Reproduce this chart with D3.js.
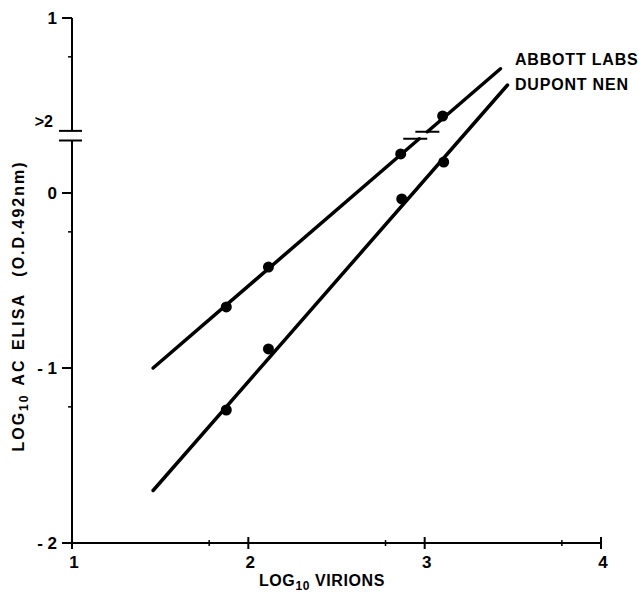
<!DOCTYPE html>
<html><head><meta charset="utf-8">
<script src="https://cdn.jsdelivr.net/npm/d3@7"></script>
<style>
html,body{margin:0;padding:0;background:#fff;}
text{font-family:"Liberation Sans",Arial,sans-serif;font-weight:700;fill:#000;}
</style></head>
<body><svg id="c" width="639" height="593"></svg>
<script>
// ---- data ----
const xTicks = [1, 2, 3, 4];
const xTickLabels = ["1", "2", "3", "4"];
const xMinorTicks = [1.778, 2.778, 3.778];
const yTicks = [1, 0, -1, -2];
const yTickLabels = ["1", "0", "- 1", "- 2"];
const yMinorTicks = [0.778, -0.222, -1.222];
const yBreak = [0.30, 0.355];        // axis break (O.D. > 2)
const breakLabel = ">2";
const seriesNames = ["ABBOTT LABS", "DUPONT NEN"];
const abbottX = [1.875, 2.114, 2.864, 3.102];
const abbottY = [-0.651, -0.423, 0.223, 0.44];
const dupontX = [1.875, 2.114, 2.87, 3.108];
const dupontY = [-1.24, -0.891, -0.034, 0.177];
const abbottLineX = [1.46, 3.43];
const abbottLineY = [-1.0, 0.71];
const dupontLineX = [1.46, 3.47];
const dupontLineY = [-1.70, 0.617];
const xTitle = ["LOG", "10", " VIRIONS"];
const yTitle = ["LOG", "10", " AC ELISA  (O.D.492nm)"];

// ---- scales ----
const x = d3.scaleLinear().domain([1, 4]).range([72, 601]);
const y = d3.scaleLinear().domain([-2, 1]).range([543, 18]);
const svg = d3.select("#c");
const g = svg.append("g");

// ---- axes ----
// y axis with break
g.append("line").attr("x1", x(1)).attr("x2", x(1)).attr("y1", y(1)).attr("y2", y(yBreak[1]))
  .attr("stroke", "#000").attr("stroke-width", 2);
g.append("line").attr("x1", x(1)).attr("x2", x(1)).attr("y1", y(yBreak[0])).attr("y2", y(-2) + 6)
  .attr("stroke", "#000").attr("stroke-width", 2);
yBreak.forEach(v => g.append("line").attr("x1", x(1) - 13).attr("x2", x(1) + 10)
  .attr("y1", y(v)).attr("y2", y(v)).attr("stroke", "#000").attr("stroke-width", 2));
g.selectAll(".ytick").data(yTicks).join("line")
  .attr("x1", x(1) - 10).attr("x2", x(1)).attr("y1", d => y(d)).attr("y2", d => y(d))
  .attr("stroke", "#000").attr("stroke-width", 2);
g.selectAll(".yminor").data(yMinorTicks).join("line")
  .attr("x1", x(1) - 4).attr("x2", x(1)).attr("y1", d => y(d)).attr("y2", d => y(d))
  .attr("stroke", "#000").attr("stroke-width", 1.5);
g.selectAll(".ylab").data(yTicks).join("text")
  .attr("x", x(1) - 15).attr("y", d => y(d) + 6).attr("text-anchor", "end")
  .attr("font-size", 17).text((d, i) => yTickLabels[i]);
g.append("text").attr("x", x(1) - 19).attr("y", y(0.41) + 6).attr("text-anchor", "end")
  .attr("font-size", 16).text(breakLabel);

// x axis
g.append("line").attr("x1", x(1) - 10).attr("x2", x(4)).attr("y1", y(-2)).attr("y2", y(-2))
  .attr("stroke", "#000").attr("stroke-width", 2);
g.selectAll(".xtick").data(xTicks.slice(1)).join("line")
  .attr("x1", d => x(d)).attr("x2", d => x(d)).attr("y1", y(-2) - 6).attr("y2", y(-2) + 6)
  .attr("stroke", "#000").attr("stroke-width", 2);
g.selectAll(".xminor").data(xMinorTicks).join("line")
  .attr("x1", d => x(d)).attr("x2", d => x(d)).attr("y1", y(-2) - 3).attr("y2", y(-2) + 3)
  .attr("stroke", "#000").attr("stroke-width", 1.5);
g.selectAll(".xlab").data(xTicks).join("text")
  .attr("x", d => x(d) + 2).attr("y", y(-2) + 25).attr("text-anchor", "middle")
  .attr("font-size", 17).text((d, i) => xTickLabels[i]);

// axis titles
const xt = g.append("text").attr("x", 322).attr("y", 586).attr("text-anchor", "middle")
  .attr("font-size", 16).attr("letter-spacing", 0.6);
xt.append("tspan").text(xTitle[0]);
xt.append("tspan").attr("dy", 4).attr("font-size", 12).text(xTitle[1]);
xt.append("tspan").attr("dy", -4).text(xTitle[2]);

const yt = g.append("text").attr("transform", "translate(24,306) rotate(-90)")
  .attr("text-anchor", "middle").attr("font-size", 16).attr("letter-spacing", 2)
  .attr("word-spacing", 2).attr("xml:space", "preserve");
yt.append("tspan").text(yTitle[0]);
yt.append("tspan").attr("dy", 4).attr("font-size", 12).text(yTitle[1]);
yt.append("tspan").attr("dy", -4).text(yTitle[2]);

// ---- lines ----
const slopeA = (abbottLineY[1] - abbottLineY[0]) / (abbottLineX[1] - abbottLineX[0]);
const xAt = v => abbottLineX[0] + (v - abbottLineY[0]) / slopeA;
const segA = [
  [[abbottLineX[0], abbottLineY[0]], [xAt(yBreak[0] + 0.01), yBreak[0] + 0.01]],
  [[xAt(yBreak[1] - 0.005), yBreak[1] - 0.005], [abbottLineX[1], abbottLineY[1]]]
];
const line = d3.line().x(d => x(d[0])).y(d => y(d[1]));
segA.forEach(s => g.append("path").attr("d", line(s)).attr("fill", "none")
  .attr("stroke", "#000").attr("stroke-width", 3.5).attr("stroke-linecap", "round"));
// break dashes on the Abbott line
[[yBreak[0] + 0.01, -4], [yBreak[1] - 0.005, 0]].forEach(([v, off]) => {
  const cx = x(xAt(v)) + off;
  g.append("line").attr("x1", cx - 12).attr("x2", cx + 12).attr("y1", y(v)).attr("y2", y(v))
    .attr("stroke", "#000").attr("stroke-width", 2);
});
g.append("path").attr("d", line(dupontLineX.map((d, i) => [d, dupontLineY[i]])))
  .attr("fill", "none").attr("stroke", "#000").attr("stroke-width", 3.5).attr("stroke-linecap", "round");

// ---- points ----
g.selectAll(".pa").data(abbottX).join("circle")
  .attr("cx", d => x(d)).attr("cy", (d, i) => y(abbottY[i])).attr("r", 5.5).attr("fill", "#000");
g.selectAll(".pd").data(dupontX).join("circle")
  .attr("cx", d => x(d)).attr("cy", (d, i) => y(dupontY[i])).attr("r", 5.5).attr("fill", "#000");

// ---- series labels ----
g.selectAll(".sl").data(seriesNames).join("text")
  .attr("x", 515).attr("y", (d, i) => 65 + i * 25).attr("font-size", 16)
  .attr("letter-spacing", 0.8).text(d => d);
</script></body></html>
